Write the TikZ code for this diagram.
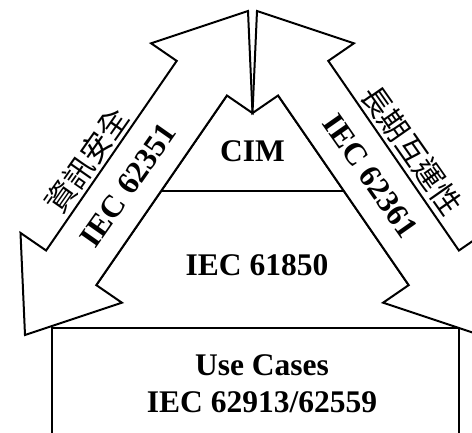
\documentclass[tikz,border=0pt]{standalone}
\usepackage{fontspec}
\setmainfont{Liberation Serif}
\newfontfamily\cjkfont{Noto Sans CJK TC}
\begin{document}
\begin{tikzpicture}[x=1pt,y=-1pt,line join=miter,
  shapebox/.style={draw=black,fill=white,line width=2pt},
  outline/.style={draw=black,line width=2pt},
  lbl/.style={font=\fontsize{31.5}{37}\selectfont\bfseries,inner sep=0pt},
  cjk/.style={font=\fontsize{30}{30}\selectfont\cjkfont,inner sep=0pt}]
\useasboundingbox (0,0) rectangle (472,432);
\clip (0,0) rectangle (472,432);

% layered triangle: CIM on top of IEC 61850
% (filled whole; its sides are stroked only where the arrows leave them visible)
\fill[white] (252.5,58.3) -- (449.8,345) -- (55.2,345) -- cycle;
\draw[outline] (72.9,319) -- (246.9,66.5);
\draw[outline] (432.1,319) -- (258.1,66.5);
\draw[outline] (161.2,191) -- (343.8,191);

% base block
\draw[shapebox] (52,328) rectangle (459,450);

% double-headed arrow along the left side
\draw[shapebox] (248,11) -- (151.1,43.3) -- (176.7,60.9) -- (46.1,250.5)
  -- (20.5,232.9) -- (25,335) -- (121.9,302.7) -- (96.3,285.1)
  -- (226.9,95.5) -- (252.5,113.1) -- cycle;

% double-headed arrow along the right side
\draw[shapebox] (257,11) -- (353.9,43.3) -- (328.3,60.9) -- (458.9,250.5)
  -- (484.5,232.9) -- (480,335) -- (383.1,302.7) -- (408.7,285.1)
  -- (278.1,95.5) -- (252.5,113.1) -- cycle;

% labels
\node[lbl,anchor=base] (cim) at (252.5,161) {CIM};
\node[lbl,anchor=base] (iec61850) at (257,275) {IEC 61850};
\node[lbl,anchor=base] (usecases) at (262,375) {Use Cases};
\node[lbl,anchor=base] (usestd) at (262,412) {IEC 62913/62559};

\node[lbl,rotate=55] (sec) at (128.3,185) {IEC 62351};
\node[lbl,rotate=-55] (interop) at (370.5,176) {IEC 62361};

\node[cjk,rotate=55] (secname) at (87,160) {資訊安全};
\node[cjk,rotate=-55] (interopname) at (412,150) {長期互運性};
\end{tikzpicture}
\end{document}
